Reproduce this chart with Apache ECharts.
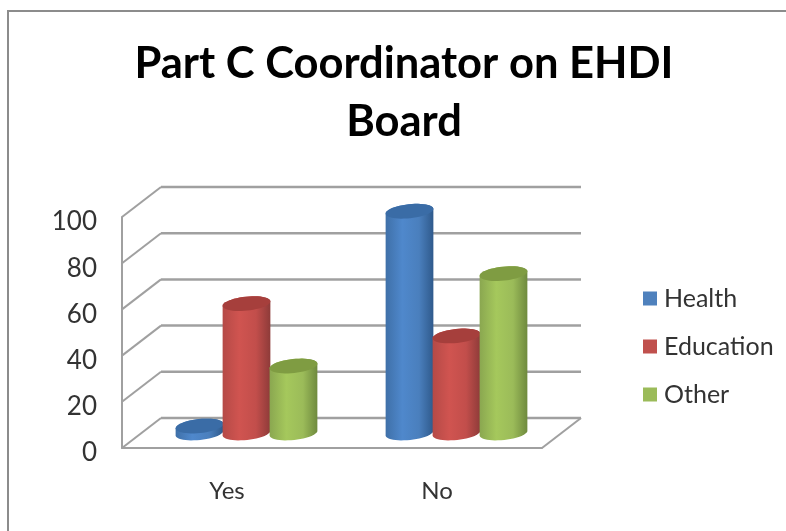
<!DOCTYPE html>
<html><head><meta charset="utf-8">
<style>html,body{margin:0;padding:0;background:#fff}#c{width:786px;height:531px}</style>
<script src="https://cdn.jsdelivr.net/npm/echarts@6/dist/echarts.min.js"></script>
</head><body><div id="c"></div>
<script>
const categories = ['Yes', 'No'];
const yTicks = [0, 20, 40, 60, 80, 100];
const health = [3, 96];
const education = [56, 42];
const other = [29, 69];
const titleText = 'Part C Coordinator on EHDI\nBoard';

const chart = echarts.init(document.getElementById('c'), null, {renderer: 'canvas'});
const DX = 39, DY = -30, GREY = '#a0a0a0';
const RX = 24, RY = 7, TILT = -6 * Math.PI / 180;
const G = echarts.graphic;

function ellipsePt(cx, cy, t) {
  const x = RX * Math.cos(t), y = RY * Math.sin(t);
  return [cx + x * Math.cos(TILT) - y * Math.sin(TILT), cy + x * Math.sin(TILT) + y * Math.cos(TILT)];
}
function ring(cx, cy) {
  const p = [];
  for (let i = 0; i < 48; i++) p.push(ellipsePt(cx, cy, i / 48 * 2 * Math.PI));
  return p;
}
function bodyPts(cx, topY, baseY) {
  const p = [];
  for (let i = 0; i <= 24; i++) p.push(ellipsePt(cx, baseY, i / 24 * Math.PI));
  for (let i = 0; i <= 24; i++) p.push(ellipsePt(cx, topY, Math.PI + i / 24 * Math.PI));
  return p;
}
function cylinder(offset, stops, topColor) {
  return function (params, api) {
    const top = api.coord([api.value(0), api.value(1)]);
    const base = api.coord([api.value(0), 0]);
    const cx = top[0] + DX / 2 + offset;
    const topY = top[1] + DY / 2, baseY = base[1] + DY / 2;
    return {type: 'group', children: [
      {type: 'polygon', shape: {points: bodyPts(cx, topY, baseY)},
       style: {fill: new G.LinearGradient(0, 0, 1, 0, stops)}},
      {type: 'polygon', shape: {points: ring(cx, topY)}, style: {fill: topColor}}
    ]};
  };
}
function walls(params, api) {
  const a = api.coord([0, api.value(1)]);
  const left = api.coord([0, 0])[0] - (api.size([1, 0])[0]) / 2;
  const right = left + api.size([1, 0])[0] * categories.length;
  const kids = [
    {type: 'line', shape: {x1: left, y1: a[1], x2: left + DX, y2: a[1] + DY}, style: {stroke: GREY, lineWidth: 2}},
    {type: 'line', shape: {x1: left + DX, y1: a[1] + DY, x2: right + DX, y2: a[1] + DY}, style: {stroke: GREY, lineWidth: 2.5}}
  ];
  if (api.value(1) === 0) kids.push({type: 'line', shape: {x1: right, y1: a[1], x2: right + DX, y2: a[1] + DY}, style: {stroke: GREY, lineWidth: 2}});
  return {type: 'group', children: kids};
}
const seriesFor = (name, values, color, offset, stops, topColor, z) => ({
  name, type: 'custom', z, color,
  itemStyle: {color},
  data: values.map((v, i) => [i, v]),
  encode: {x: 0, y: 1},
  renderItem: cylinder(offset, stops, topColor)
});

chart.setOption({
  animation: false,
  backgroundColor: '#ffffff',
  textStyle: {fontFamily: 'Lato'},
  title: {
    text: titleText, left: 399, top: 30, textAlign: 'center',
    textStyle: {fontFamily: 'Lato', fontWeight: 'bold', fontSize: 43.5, lineHeight: 58, color: '#000'}
  },
  grid: {left: 122, right: 244, top: 217, bottom: 83, containLabel: false},
  xAxis: {
    type: 'category', data: categories,
    axisLine: {lineStyle: {color: GREY, width: 2}}, axisTick: {show: false},
    axisLabel: {margin: 31, fontFamily: 'Lato', fontSize: 24, color: '#333'}
  },
  yAxis: {
    type: 'value', min: 0, max: 100, interval: 20,
    axisLine: {show: true, lineStyle: {color: GREY, width: 2}}, axisTick: {show: false},
    splitLine: {show: false},
    axisLabel: {margin: 25, fontFamily: 'Lato', fontSize: 26, color: '#333', verticalAlign: 'top', lineHeight: 10}
  },
  legend: {
    left: 638, top: 281, orient: 'vertical', icon: 'rect', itemWidth: 14, itemHeight: 14, itemGap: 23,
    data: ['Health', 'Education', 'Other'], selectedMode: false,
    textStyle: {fontFamily: 'Lato', fontSize: 25, lineHeight: 20, color: '#333', padding: [0, 0, 0, 2]}
  },
  graphic: [{type: 'polyline', silent: true, shape: {points: [[8, 531], [8, 11], [786, 11]]}, style: {fill: null, stroke: '#8c8c8c', lineWidth: 2}}],
  series: [
    {name: 'walls', type: 'custom', z: 1, data: yTicks.map(t => [0, t]), encode: {x: 0, y: 1}, renderItem: walls, silent: true},
    seriesFor('Health', health, '#4f81bd', -47,
      [{offset: 0, color: '#3f70a8'}, {offset: .35, color: '#4f88cc'}, {offset: .7, color: '#4a7fbd'}, {offset: 1, color: '#2f5a8c'}], '#3a6ca6', 3),
    seriesFor('Education', education, '#c0504d', 0,
      [{offset: 0, color: '#b54a47'}, {offset: .35, color: '#d05450'}, {offset: .7, color: '#c24e4b'}, {offset: 1, color: '#8e3b39'}], '#a63f3c', 4),
    seriesFor('Other', other, '#9bbb59', 47,
      [{offset: 0, color: '#8aa750'}, {offset: .35, color: '#a5c85c'}, {offset: .7, color: '#9bbb59'}, {offset: 1, color: '#6f8a3e'}], '#7f9c42', 5)
  ]
});
</script></body></html>
